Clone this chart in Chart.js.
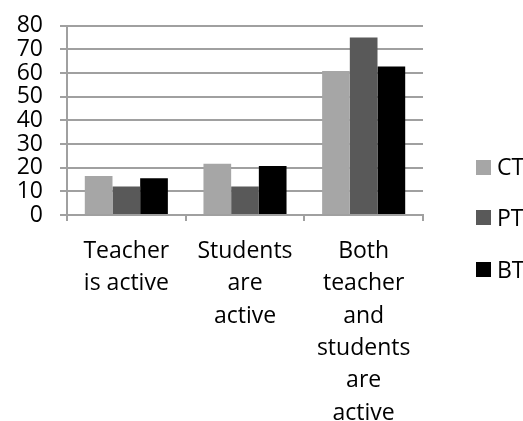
<!DOCTYPE html>
<html>
<head>
<meta charset="utf-8">
<script src="https://cdn.jsdelivr.net/npm/chart.js@4/dist/chart.umd.min.js"></script>
<style>
  body { margin: 0; background: #fff; }
  #wrap { position: relative; width: 523px; height: 421px; }
  .leg { position: absolute; left: 476px; font: 23px "Open Sans", sans-serif; color: #000; line-height: 23px; }
  .leg span { position: absolute; left: 0; width: 15px; height: 15px; }
  .leg b { position: absolute; left: 21px; top: -12px; font-weight: normal; white-space: nowrap; line-height: 23px; }
</style>
</head>
<body>
<div id="wrap">
  <canvas id="activeChart"></canvas>
  <div id="legend"></div>
</div>
<script>
const categories = [
  ["Teacher", "is active"],
  ["Students", "are", "active"],
  ["Both", "teacher", "and", "students", "are", "active"]
];
const seriesNames = ["CT", "PT", "BT"];
const ctValues = [16.5, 21.7, 60.8];
const ptValues = [12, 12, 75];
const btValues = [15.5, 20.7, 62.7];
const yTicks = [0, 10, 20, 30, 40, 50, 60, 70, 80];

const colors = ["#a6a6a6", "#595959", "#000000"];
const gridGray = "#a0a0a0";
const font = { family: "'Open Sans', sans-serif", size: 23 };

const ctx = document.getElementById("activeChart").getContext("2d");
const chart = new Chart(ctx, {
  type: "bar",
  data: {
    labels: categories,
    datasets: [ctValues, ptValues, btValues].map((vals, i) => ({
      label: seriesNames[i],
      data: vals,
      backgroundColor: colors[i],
      borderWidth: 0,
      categoryPercentage: 0.7,
      barPercentage: 1.0
    }))
  },
  options: {
    responsive: true,
    maintainAspectRatio: false,
    animation: false,
    layout: { padding: { top: 0, right: 100, left: 0, bottom: 0 } },
    plugins: {
      legend: { display: false },
      tooltip: { enabled: false }
    },
    scales: {
      x: {
        afterFit: s => { s.height = 206; },
        grid: {
          offset: true,
          drawOnChartArea: false,
          color: gridGray,
          lineWidth: 2,
          tickLength: 6
        },
        border: { color: gridGray, width: 2 },
        ticks: {
          color: "#000",
          font: { ...font, lineHeight: 1.41 },
          padding: 14,
          maxRotation: 0,
          autoSkip: false
        }
      },
      y: {
        min: yTicks[0],
        max: yTicks[yTicks.length - 1],
        afterFit: s => { s.width = 67; },
        afterBuildTicks: s => { s.ticks = yTicks.map(v => ({ value: v })); },
        grid: {
          color: gridGray,
          lineWidth: 2,
          tickLength: 7
        },
        border: { color: gridGray, width: 2 },
        ticks: {
          color: "#000",
          font: { ...font, lineHeight: 0.75 },
          padding: 17,
          autoSkip: false
        }
      }
    }
  }
});

// html legend on the right
const legendTops = [167, 217.5, 269.5];
const legend = document.getElementById("legend");
seriesNames.forEach((name, i) => {
  const item = document.createElement("div");
  item.className = "leg";
  item.style.top = legendTops[i] + "px";
  item.innerHTML = `<span style="background:${colors[i]};top:-7.5px"></span><b>${name}</b>`;
  legend.appendChild(item);
});
</script>
</body>
</html>
